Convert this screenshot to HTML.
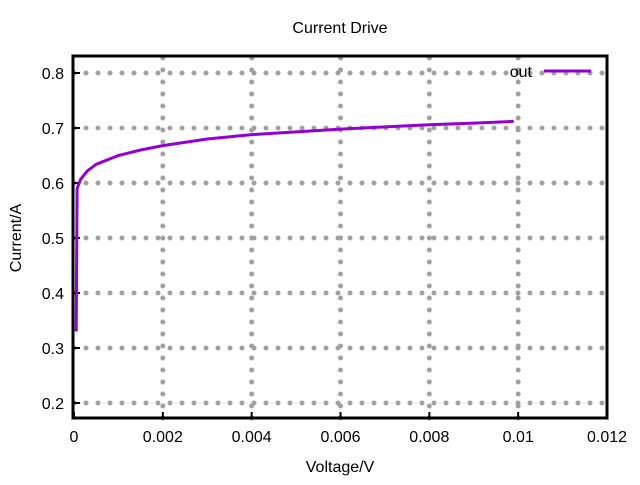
<!DOCTYPE html>
<html><head><meta charset="utf-8"><style>
body{margin:0;background:#fff}
text{font-family:"Liberation Sans",sans-serif;font-size:16px;fill:#000}
</style></head><body>
<svg id="chart" width="640" height="480" xmlns="http://www.w3.org/2000/svg">
<rect width="640" height="480" fill="#fff"/>
<text x="340" y="33" text-anchor="middle">Current Drive</text>
<text x="340" y="472" text-anchor="middle">Voltage/V</text>
<text x="21" y="238" text-anchor="middle" transform="rotate(-90 21 238)">Current/A</text>
<g id="grid"></g><g id="ticks"></g><g id="series"></g>
<rect x="73" y="56" width="534" height="362" fill="none" stroke="#000" stroke-width="3"/>
<text x="532" y="77" text-anchor="end">out</text>
<line x1="544" y1="71" x2="591" y2="71" stroke="#9400d3" stroke-width="3"/>
</svg>
<script>
const xTicks=[0,0.002,0.004,0.006,0.008,0.01,0.012];
const xTickLabels=["0","0.002","0.004","0.006","0.008","0.01","0.012"];
const yTicks=[0.2,0.3,0.4,0.5,0.6,0.7,0.8];
const yTickLabels=["0.2","0.3","0.4","0.5","0.6","0.7","0.8"];
const voltage=[0.00005,0.00007,0.00015,0.0003,0.0005,0.001,0.0015,0.002,0.003,0.004,0.005,0.006,0.007,0.008,0.009,0.0099];
const current=[0.33,0.59,0.607,0.622,0.634,0.65,0.66,0.668,0.68,0.688,0.693,0.698,0.702,0.706,0.709,0.712];
const NS="http://www.w3.org/2000/svg";
const X0=74,X1=607,Y0=418,Y1=57;
function xs(v){return X0+v/0.012*(X1-X0);}
function ys(v){return 403-(v-0.2)/0.1*55;}
function mk(tag,attrs,parent){const e=document.createElementNS(NS,tag);for(const k in attrs)e.setAttribute(k,attrs[k]);document.getElementById(parent).appendChild(e);return e;}
xTicks.forEach((t,i)=>{
  const x=xs(t);
  if(i>0&&i<xTicks.length-1){
    const g=mk('line',{x1:x,y1:Y0,x2:x,y2:Y1,stroke:'#a0a0a0','stroke-width':5,'stroke-dasharray':'0 12','stroke-linecap':'round'},'grid');
    
    
  }
  const tk=mk('line',{x1:x,y1:Y0,x2:x,y2:Y0-6,stroke:'#000','stroke-width':2},'ticks');
  
  
  const tx=mk('text',{x:x,y:442,'text-anchor':'middle'},'ticks');
  tx.textContent=xTickLabels[i];
  
  
});
yTicks.forEach((t,i)=>{
  const y=ys(t);
  const g=mk('line',{x1:X0,y1:y,x2:X1,y2:y,stroke:'#a0a0a0','stroke-width':5,'stroke-dasharray':'0 12','stroke-linecap':'round'},'grid');
  
  
  const tk=mk('line',{x1:X0,y1:y,x2:X0+6,y2:y,stroke:'#000','stroke-width':2},'ticks');
  
  
  const tx=mk('text',{x:64,y:y+6,'text-anchor':'end'},'ticks');
  tx.textContent=yTickLabels[i];
  
  
});
const pts=voltage.map((v,i)=>xs(v).toFixed(1)+','+ys(current[i]).toFixed(1)).join(' ');
const line=mk('polyline',{points:pts,fill:'none',stroke:'#9400d3','stroke-width':3,'stroke-linejoin':'round'},'series');


</script>
</body></html>
